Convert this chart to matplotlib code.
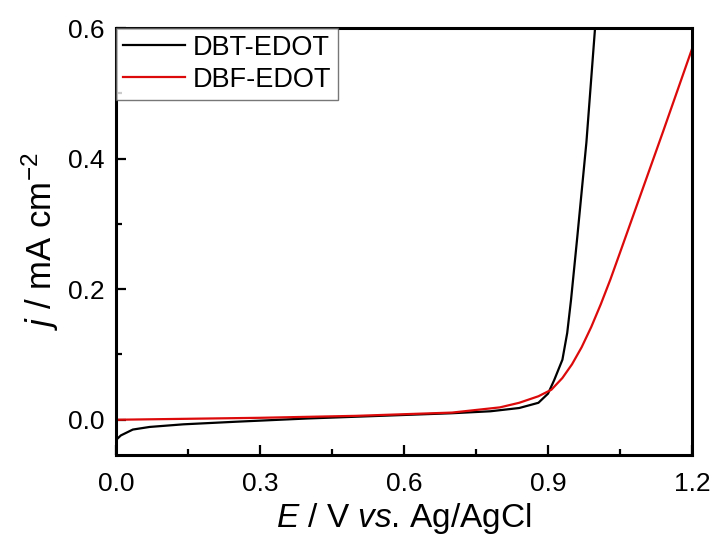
import numpy as np
import matplotlib
matplotlib.use('Agg')
import matplotlib.pyplot as plt
from matplotlib.ticker import MultipleLocator

plt.rcParams['font.family'] = ['Liberation Sans', 'DejaVu Sans']
plt.rcParams['mathtext.fontset'] = 'custom'
plt.rcParams['mathtext.rm'] = 'Liberation Sans'
plt.rcParams['mathtext.it'] = 'Liberation Sans:italic'

# LSV curves, potential (V vs Ag/AgCl) and current density (mA cm-2)
dbt_E = [0.0, 0.01, 0.035, 0.07, 0.14, 0.25, 0.4, 0.55, 0.7, 0.78, 0.84,
         0.88, 0.9, 0.913, 0.93, 0.94, 0.948, 0.961, 0.98, 0.998]
dbt_j = [-0.031, -0.024, -0.015, -0.011, -0.007, -0.003, 0.002, 0.006, 0.010,
         0.013, 0.018, 0.026, 0.040, 0.061, 0.092, 0.133, 0.184, 0.28, 0.425, 0.6]

dbf_E = [0.0, 0.1, 0.3, 0.5, 0.7, 0.8, 0.84, 0.88, 0.907, 0.93, 0.95, 0.97,
         0.99, 1.01, 1.03, 1.05, 1.08, 1.11, 1.14, 1.17, 1.2]
dbf_j = [0.0, 0.001, 0.003, 0.006, 0.011, 0.019, 0.026, 0.036, 0.046, 0.064,
         0.085, 0.111, 0.142, 0.177, 0.215, 0.256, 0.318, 0.380, 0.442, 0.505, 0.568]

labels = ['DBT-EDOT', 'DBF-EDOT']

fig = plt.figure(figsize=(7.18, 5.45), dpi=100)
ax = fig.add_axes([0.1616, 0.1651, 0.8022, 0.7835])

ax.plot(dbt_E, dbt_j, color='black', lw=1.6, label=labels[0])
ax.plot(dbf_E, dbf_j, color='#dc0a0a', lw=1.6, label=labels[1])

ax.set_xlim(0, 1.2)
ax.set_ylim(-0.054, 0.6)
ax.xaxis.set_major_locator(MultipleLocator(0.3))
ax.xaxis.set_minor_locator(MultipleLocator(0.15))
ax.yaxis.set_major_locator(MultipleLocator(0.2))
ax.yaxis.set_minor_locator(MultipleLocator(0.1))
ax.set_xticklabels([f'{v:.1f}' for v in ax.get_xticks()])
ax.set_yticklabels([f'{v:.1f}' for v in ax.get_yticks()])

ax.tick_params(which='both', direction='in', top=False, right=False,
               labelsize=19, width=1.6)
ax.tick_params(which='major', length=7)
ax.tick_params(axis='x', which='major', pad=12)
ax.tick_params(axis='y', which='major', pad=8)
ax.tick_params(which='minor', length=4)
for s in ax.spines.values():
    s.set_linewidth(2.2)

ax.set_xlabel(r'$\mathit{E}$ / V $\mathit{vs}$. Ag/AgCl', fontsize=24, labelpad=4)
ax.set_ylabel(r'$\mathit{j}$ / mA cm$^{-2}$', fontsize=25, labelpad=5)

leg = ax.legend(loc='upper left', fontsize=19.5, frameon=True, fancybox=False,
                borderaxespad=0, handlelength=2.3, handletextpad=0.3,
                labelspacing=0.22, borderpad=0.25)
leg.get_frame().set_edgecolor('#555555')
leg.get_frame().set_linewidth(1.0)

fig.savefig('out.png', dpi=100)
